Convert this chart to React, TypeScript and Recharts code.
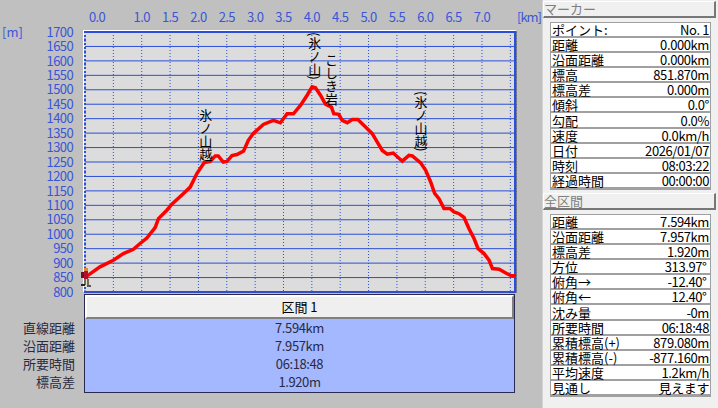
import { LineChart, Line, XAxis, YAxis, CartesianGrid, ReferenceDot } from 'recharts';

const distanceKm = [
  0, 0.076, 0.265, 0.5, 0.677, 0.853, 0.972, 1.09, 1.237, 1.295, 1.443, 1.532, 1.737, 1.855, 1.973, 2.102,
  2.208, 2.297, 2.35, 2.438, 2.503, 2.592, 2.68, 2.797, 2.88, 2.968, 3.145, 3.322, 3.41, 3.445, 3.564, 3.675,
  3.799, 3.917, 4.005, 4.064, 4.152, 4.24, 4.346, 4.387, 4.475, 4.535, 4.624, 4.712, 4.811, 4.947, 5.065, 5.154,
  5.242, 5.33, 5.436, 5.565, 5.595, 5.712, 5.772, 5.919, 6.007, 6.095, 6.166, 6.242, 6.33, 6.436, 6.507, 6.595,
  6.684, 6.772, 6.86, 6.931, 7.037, 7.125, 7.185, 7.302, 7.42, 7.509, 7.6,
];
const elevationM = [
  852, 861, 887, 910, 933, 948, 968, 987, 1023, 1054, 1083, 1104, 1141, 1163, 1210, 1248,
  1252, 1271, 1271, 1250, 1252, 1272, 1276, 1288, 1325, 1349, 1380, 1394, 1388, 1386, 1417, 1417,
  1446, 1481, 1510, 1507, 1481, 1450, 1440, 1417, 1415, 1394, 1386, 1397, 1397, 1371, 1348, 1319,
  1290, 1277, 1281, 1258, 1253, 1273, 1271, 1247, 1221, 1181, 1141, 1123, 1089, 1089, 1077, 1071,
  1058, 1019, 985, 950, 933, 910, 881, 879, 866, 857, 855,
];
const xTicks = [0, 0.5, 1, 1.5, 2, 2.5, 3, 3.5, 4, 4.5, 5, 5.5, 6, 6.5, 7, 7.5];
const xHiddenLabels = [0.5, 7.5];
const yTicks = [800, 850, 900, 950, 1000, 1050, 1100, 1150, 1200, 1250, 1300, 1350, 1400, 1450, 1500, 1550, 1600, 1650, 1700];

const waypointNames = ['氷ノ山越', '(氷ノ山)', 'こしき岩', '(氷ノ山越)'];
const waypointKm = [2.13, 4.05, 4.345, 5.925];
const waypointTopM = [1436, 1700, 1626, 1496];

const sectionLabels = ['直線距離', '沿面距離', '所要時間', '標高差'];
const sectionValues = ['7.594km', '7.957km', '06:18:48', '1.920m'];

const markerLabels = ['ポイント:', '距離', '沿面距離', '標高', '標高差', '傾斜', '勾配', '速度', '日付', '時刻', '経過時間'];
const markerValues = ['No. 1', '0.000km', '0.000km', '851.870m', '0.000m', '0.0°', '0.0%', '0.0km/h', '2026/01/07', '08:03:22', '00:00:00'];
const totalLabels = ['距離', '沿面距離', '標高差', '方位', '俯角→', '俯角←', '沈み量', '所要時間', '累積標高(+)', '累積標高(-)', '平均速度', '見通し'];
const totalValues = ['7.594km', '7.957km', '1.920m', '313.97°\u00a0', '-12.40°\u00a0', '12.40°\u00a0', '-0m', '06:18:48', '879.080m', '-877.160m', '1.2km/h', '見えます'];

const chartData = distanceKm.map((km, i) => ({ km, elevation: elevationM[i] }));
const markerData = chartData.slice(0, 1);

const FONT = '"Noto Sans CJK JP", sans-serif';
const AXIS_BLUE = '#3a55d8';
const GRID_BLUE = '#2a4fd8';

function abs(left: number, top: number, width: number, height: number): React.CSSProperties {
  return { position: 'absolute', left, top, width, height, boxSizing: 'border-box' };
}

// eslint-disable-next-line @typescript-eslint/no-explicit-any
function KmTick({ x, y, payload }: any) {
  if (xHiddenLabels.includes(payload.value)) return null;
  const shift = payload.value === 0 ? 12 : 0;
  return (
    <text x={x + shift} y={y} textAnchor="middle" fill={AXIS_BLUE} fontSize={13} fontFamily={FONT} letterSpacing={-0.6}>
      {payload.value.toFixed(1)}
    </text>
  );
}

// eslint-disable-next-line @typescript-eslint/no-explicit-any
function VerticalName({ viewBox, value }: any) {
  return (
    <text
      x={viewBox.x}
      y={viewBox.y}
      fill="#000"
      fontSize={13}
      fontFamily={FONT}
      style={{ writingMode: 'vertical-rl' }}
    >
      {value}
    </text>
  );
}

// eslint-disable-next-line @typescript-eslint/no-explicit-any
function Hiker({ cx, cy }: any) {
  return (
    <g transform={`translate(${cx - 4},${cy - 9})`}>
      <rect x={3} y={0} width={4} height={3} fill="#e08a30" />
      <rect x={0} y={4} width={3} height={6} fill="#701020" />
      <rect x={3} y={3} width={4} height={8} fill="#b01030" />
      <rect x={3} y={11} width={2} height={6} fill="#7a6a50" />
      <rect x={6} y={11} width={2} height={6} fill="#7a6a50" />
      <rect x={0} y={16} width={4} height={2} fill="#222" />
      <rect x={6} y={17} width={4} height={2} fill="#555" />
    </g>
  );
}

function Header({ text, top }: { text: string; top: number }) {
  return (
    <div
      style={{
        ...abs(543, top, 173, 17),
        background: '#f0f0f0',
        borderTop: '1px solid #fff',
        borderLeft: '1px solid #fff',
        borderRight: '2px solid #777',
        borderBottom: '2px solid #777',
        color: '#808080',
        fontSize: 13,
        lineHeight: '14px',
      }}
    >
      {text}
    </div>
  );
}

function InfoTable({ labels, values, top }: { labels: string[]; values: string[]; top: number }) {
  return (
    <div style={{ ...abs(550, top, 161, labels.length * 15.08 + 2), background: '#a0a0a0', padding: 1 }}>
      {labels.map((label, i) => (
        <div
          key={label}
          style={{
            height: 13.08,
            marginBottom: 2,
            background: '#fff',
            display: 'flex',
            justifyContent: 'space-between',
            alignItems: 'center',
            padding: '0 1px',
            color: '#000',
            fontSize: 13,
            lineHeight: '13px',
            whiteSpace: 'nowrap',
          }}
        >
          <span>{label}</span>
          <span style={{ letterSpacing: -0.4 }}>{values[i]}</span>
        </div>
      ))}
    </div>
  );
}

export default function App() {
  return (
    <div style={{ ...abs(0, 0, 718, 408), background: '#c0c0c0', fontFamily: FONT, overflow: 'hidden' }}>
      {/* white bevel and plot background */}
      <div style={{ ...abs(83, 30, 433, 262), background: '#fff' }} />
      <div
        style={{
          ...abs(84, 31, 432, 262),
          background: '#dcdcdc',
          borderTop: `2px solid ${GRID_BLUE}`,
          borderLeft: `2px dotted ${GRID_BLUE}`,
          borderRight: `2px solid ${GRID_BLUE}`,
          borderBottom: '2px solid #3c4fb8',
        }}
      />
      <div style={{ ...abs(516, 31, 1, 262), background: '#808080' }} />

      <div style={abs(0, 0, 718, 408)}>
        <LineChart
          width={718}
          height={408}
          data={chartData}
          margin={{ top: 0, right: 202, bottom: 116, left: 25 }}
        >
          <CartesianGrid vertical={false} stroke={GRID_BLUE} strokeWidth={1} />
          <CartesianGrid horizontal={false} stroke={GRID_BLUE} strokeWidth={1} strokeDasharray="1 2" />
          <XAxis
            dataKey="km"
            type="number"
            orientation="top"
            domain={[0, 7.6]}
            ticks={xTicks}
            interval={0}
            height={32}
            axisLine={false}
            tickLine={false}
            tick={<KmTick />}
            tickSize={0}
            tickMargin={10}
          />
          <YAxis
            type="number"
            domain={[800, 1700]}
            ticks={yTicks}
            interval={0}
            width={60}
            axisLine={false}
            tickLine={false}
            tickSize={0}
            tickMargin={12}
            tick={{ fontSize: 13, fill: AXIS_BLUE, fontFamily: FONT, letterSpacing: -0.6 }}
          />
          <Line
            dataKey="elevation"
            type="linear"
            stroke="#ff0000"
            strokeWidth={3.5}
            dot={false}
            isAnimationActive={false}
          />
          <Line
            data={markerData}
            dataKey="elevation"
            stroke="none"
            dot={<Hiker />}
            clipDot={false}
            isAnimationActive={false}
          />
          {waypointNames.map((name, i) => (
            <ReferenceDot
              key={name}
              x={waypointKm[i]}
              y={waypointTopM[i]}
              r={0}
              ifOverflow="visible"
              label={<VerticalName value={name} />}
            />
          ))}
        </LineChart>
      </div>

      <div style={{ ...abs(2, 24, 20, 16), color: AXIS_BLUE, fontSize: 13, lineHeight: '16px' }}>[m]</div>
      <div style={{ ...abs(517, 9, 26, 16), color: AXIS_BLUE, fontSize: 13, lineHeight: '16px', whiteSpace: 'nowrap', letterSpacing: -1 }}>[km]</div>

      {/* section table */}
      <div style={{ ...abs(84, 294, 431, 99), background: '#a4b8ff', border: '1px solid #2a2a50' }}>
        <div
          style={{
            height: 24,
            boxSizing: 'border-box',
            background: '#efefef',
            borderTop: '2px solid #fff',
            borderLeft: '2px solid #fff',
            borderRight: '2px solid #808080',
            borderBottom: '2px solid #808080',
            textAlign: 'center',
            fontSize: 13,
            lineHeight: '20px',
            color: '#000',
          }}
        >
          区間 1
        </div>
      </div>
      {sectionLabels.map((label, i) => (
        <div
          key={label}
          style={{
            ...abs(0, 319 + i * 18, 75, 18),
            textAlign: 'right',
            fontSize: 13,
            lineHeight: '18px',
            color: '#2a2a40',
          }}
        >
          {label}
        </div>
      ))}
      {sectionValues.map((value, i) => (
        <div
          key={value}
          style={{
            ...abs(85, 319 + i * 18, 429, 18),
            textAlign: 'center',
            fontSize: 13,
            lineHeight: '18px',
            color: '#2a2a40',
            letterSpacing: -0.4,
          }}
        >
          {value}
        </div>
      ))}

      {/* right side panel */}
      <div style={{ ...abs(542, 0, 176, 408), background: '#f0f0f0', borderLeft: '1px solid #d4d4d4' }} />
      <Header text="マーカー" top={1} />
      <InfoTable labels={markerLabels} values={markerValues} top={22} />
      <Header text="全区間" top={193} />
      <InfoTable labels={totalLabels} values={totalValues} top={214} />
    </div>
  );
}
